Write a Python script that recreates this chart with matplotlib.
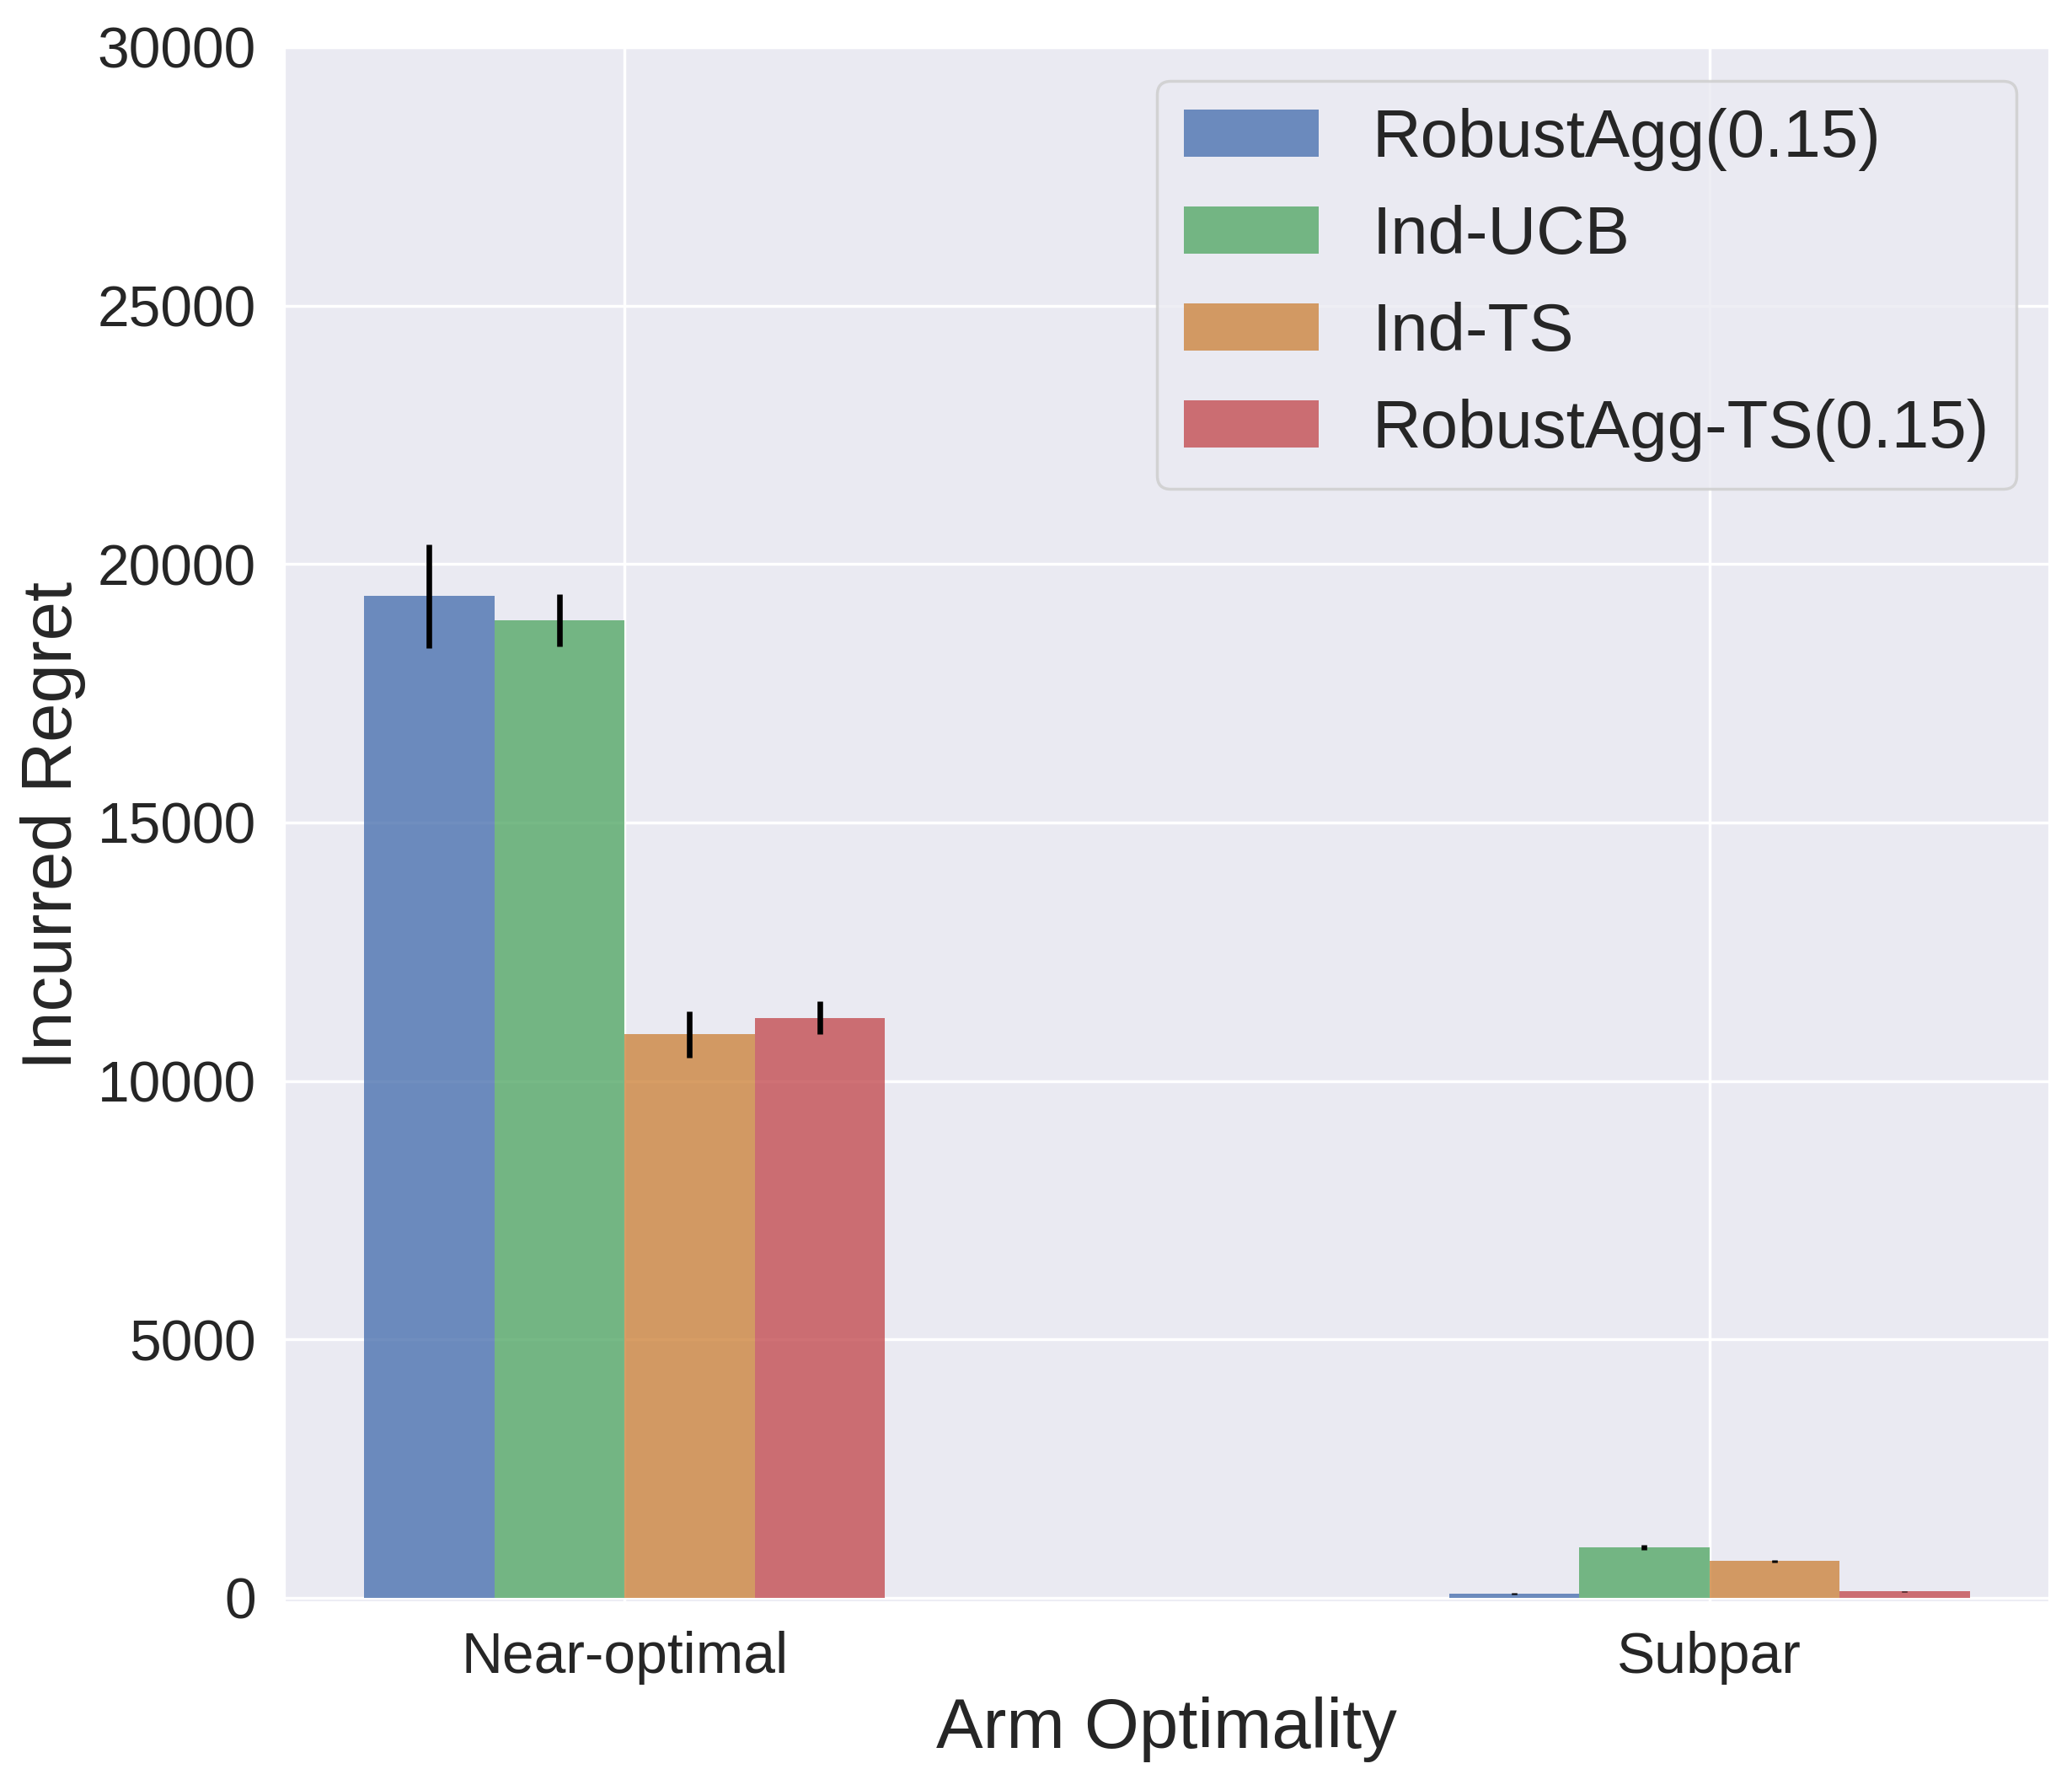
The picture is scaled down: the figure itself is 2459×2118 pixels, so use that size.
import matplotlib
matplotlib.use('Agg')
import matplotlib.pyplot as plt
import numpy as np
import seaborn as sns

categories = ['Near-optimal', 'Subpar']
methods = ['RobustAgg(0.15)', 'Ind-UCB', 'Ind-TS', 'RobustAgg-TS(0.15)']
colors = ['b', 'g', 'peru', 'r']

# regret per method, [near-optimal, subpar]
robustagg = [19380, 75]
ind_ucb = [18910, 975]
ind_ts = [10900, 710]
robustagg_ts = [11220, 125]

robustagg_err = [1000, 15]
ind_ucb_err = [500, 50]
ind_ts_err = [450, 25]
robustagg_ts_err = [320, 8]

means = [robustagg, ind_ucb, ind_ts, robustagg_ts]
errs = [robustagg_err, ind_ucb_err, ind_ts_err, robustagg_ts_err]

sns.set_theme(style='darkgrid', color_codes=True)
plt.rcParams['font.family'] = ['Liberation Sans', 'DejaVu Sans']

fig = plt.figure(figsize=(2459 / 250, 2118 / 250), dpi=250)
ax = fig.add_axes([0.137, 0.102, 0.8524, 0.8716])

x = np.arange(len(categories))
width = 0.12
for i in range(len(methods)):
    ax.bar(x + (i - 1.5) * width, means[i], width, yerr=errs[i],
           color=colors[i], alpha=0.8, linewidth=0,
           error_kw=dict(ecolor='black', elinewidth=1.9, capsize=0),
           label=methods[i])

ax.set_xticks(x)
ax.set_xticklabels(categories, fontsize=19.5)
ax.set_ylim(-100, 30000)
ax.set_yticks(np.arange(0, 30001, 5000))
ax.tick_params(axis='y', labelsize=19.5)
ax.set_xlabel('Arm Optimality', fontsize=24)
ax.set_ylabel('Incurred Regret', fontsize=24)
ax.legend(loc='upper right', fontsize=23)

fig.savefig('out.png', dpi=250)
